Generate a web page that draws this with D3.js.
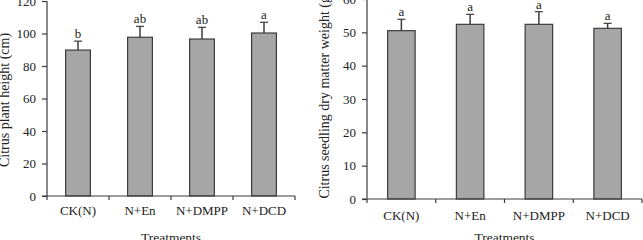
<!DOCTYPE html>
<html><head><meta charset="utf-8">
<script src="https://cdn.jsdelivr.net/npm/d3@7"></script>
<style>body{margin:0;background:#fff}svg{display:block}text{font-family:"Liberation Serif","Times New Roman",serif;fill:#222}</style>
</head><body>
<svg id="c" width="643" height="240"></svg>
<script>
const categories = ["CK(N)", "N+En", "N+DMPP", "N+DCD"];
const heightValues = [89.8, 97.7, 96.6, 100.3];
const heightErrors = [5.5, 6.7, 7.2, 6.6];
const heightLetters = ["b", "ab", "ab", "a"];
const heightTicks = [0, 20, 40, 60, 80, 100, 120];
const weightValues = [50.5, 52.4, 52.4, 51.2];
const weightErrors = [3.4, 3.0, 3.8, 1.5];
const weightLetters = ["a", "a", "a", "a"];
const weightTicks = [0, 10, 20, 30, 40, 50, 60];

const svg = d3.select("#c");

function panel(o) {
  const g = svg.append("g");
  const x = d3.scaleBand().domain(categories).range([o.x0, o.x1]).paddingInner(0.6).paddingOuter(0.3);
  const y = d3.scaleLinear().domain([0, o.max]).range([o.y0, o.y1]);
  g.selectAll("rect.bar").data(o.values).enter().append("rect")
    .attr("x", (d, i) => x(categories[i]))
    .attr("y", d => y(d))
    .attr("width", x.bandwidth())
    .attr("height", d => y(0) - y(d))
    .attr("fill", "#a6a6a6").attr("stroke", "#3c3c3c").attr("stroke-width", 1.2);
  const eg = g.selectAll("g.err").data(o.values).enter().append("g");
  eg.append("line")
    .attr("x1", (d, i) => x(categories[i]) + x.bandwidth() / 2)
    .attr("x2", (d, i) => x(categories[i]) + x.bandwidth() / 2)
    .attr("y1", d => y(d)).attr("y2", (d, i) => y(d + o.errors[i]))
    .attr("stroke", "#3c3c3c").attr("stroke-width", 1.5);
  eg.append("line")
    .attr("x1", (d, i) => x(categories[i]) + x.bandwidth() / 2 - 4)
    .attr("x2", (d, i) => x(categories[i]) + x.bandwidth() / 2 + 4)
    .attr("y1", (d, i) => y(d + o.errors[i])).attr("y2", (d, i) => y(d + o.errors[i]))
    .attr("stroke", "#3c3c3c").attr("stroke-width", 1.2);
  g.selectAll("text.let").data(o.values).enter().append("text")
    .attr("x", (d, i) => x(categories[i]) + x.bandwidth() / 2)
    .attr("y", (d, i) => y(d + o.errors[i]) - 3)
    .attr("text-anchor", "middle").style("font-size", "13px")
    .text((d, i) => o.letters[i]);
  const ya = g.append("g").attr("transform", `translate(${o.x0},0)`)
    .call(d3.axisLeft(y).tickValues(o.ticks).tickSize(5).tickPadding(6).tickFormat(d3.format("d")));
  ya.select(".domain").attr("stroke", "#3c3c3c").attr("stroke-width", 1.2).attr("d", `M0,${o.y0}V${o.y1}`);
  ya.selectAll(".tick line").attr("stroke", "#3c3c3c").attr("stroke-width", 1.2);
  ya.selectAll(".tick text").style("font-size", "13px").style("font-family", "Liberation Serif").attr("fill", "#222");
  const xa = g.append("g").attr("transform", `translate(0,${o.y0})`);
  xa.append("line").attr("x1", o.x0 - 5).attr("x2", o.x1).attr("y1", 0).attr("y2", 0)
    .attr("stroke", "#3c3c3c").attr("stroke-width", 1.2);
  const bounds = d3.range(categories.length + 1).map(i => o.x0 + i * (o.x1 - o.x0) / categories.length);
  xa.selectAll("line.t").data(bounds).enter().append("line")
    .attr("x1", d => d).attr("x2", d => d).attr("y1", 0).attr("y2", 4)
    .attr("stroke", "#3c3c3c").attr("stroke-width", 1.2);
  xa.selectAll("text.cat").data(categories).enter().append("text")
    .attr("x", d => x(d) + x.bandwidth() / 2).attr("y", o.catY)
    .attr("text-anchor", "middle").style("font-size", "13px").text(d => d);
  g.append("text").attr("x", (o.x0 + o.x1) / 2).attr("y", o.titleY)
    .attr("text-anchor", "middle").style("font-size", "13.5px").text("Treatments");
  g.append("text").attr("transform", `translate(${o.labX},${o.labY}) rotate(-90)`)
    .attr("text-anchor", "middle").style("font-size", "14px").text(o.label);
}

panel({x0: 47, x1: 295, y0: 196, y1: 1, max: 120, values: heightValues, errors: heightErrors,
  letters: heightLetters, ticks: heightTicks, catY: 19, titleY: 242, labX: 9, labY: 100,
  label: "Citrus plant height (cm)"});
panel({x0: 367, x1: 642, y0: 199, y1: -1, max: 60, values: weightValues, errors: weightErrors,
  letters: weightLetters, ticks: weightTicks, catY: 21, titleY: 242, labX: 329, labY: 95,
  label: "Citrus seedling dry matter weight (g)"});
</script>
</body></html>
